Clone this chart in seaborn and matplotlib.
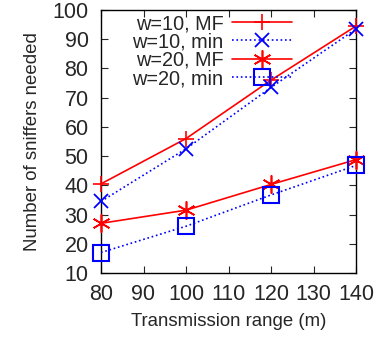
import matplotlib
matplotlib.use("Agg")
import matplotlib.pyplot as plt
import seaborn as sns
import pandas as pd

x_range = [80, 100, 120, 140]
w10_mf = [40.5, 56, 76, 94.5]
w10_min = [34.5, 52.5, 73.5, 93.5]
w20_mf = [27, 31.5, 40.3, 48.8]
w20_min = [17, 26, 36.7, 46.8]
labels = ["w=10, MF", "w=10, min", "w=20, MF", "w=20, min"]
xticks = [80, 90, 100, 110, 120, 130, 140]
yticks = [10, 20, 30, 40, 50, 60, 70, 80, 90, 100]

sns.set_style("ticks")
plt.rcParams['font.family'] = ['Liberation Sans', 'DejaVu Sans']

fig = plt.figure(figsize=(3.78, 3.39), dpi=100)
ax = fig.add_axes([101/378, 1 - 273/339, (356-101)/378, (273-10)/339])

red = "#ff0000"
blue = "#0000ff"
series = [w10_mf, w10_min, w20_mf, w20_min]
styles = [
    dict(color=red, linestyle="-", marker="+", markersize=12, lw=1.2, mew=1.2, mec=red, mfc="none"),
    dict(color=blue, linestyle=":", marker="x", markersize=10, lw=1.2, mew=1.3, mec=blue, mfc="none"),
    dict(color=red, linestyle="-", marker=(6, 2, 0), markersize=13, lw=1.2, mew=1.2, mec=red, mfc="none"),
    dict(color=blue, linestyle=":", marker="s", markersize=11, lw=1.2, mew=1.5, mec=blue, mfc="none"),
]
for vals, lab, st in zip(series, labels, styles):
    df = pd.DataFrame({"x": x_range, "y": vals})
    sns.lineplot(data=df, x="x", y="y", ax=ax, label=lab, clip_on=False, **st)

ax.set_xlim(80, 140)
ax.set_ylim(10, 100)
ax.set_xticks(xticks)
ax.set_yticks(yticks)
ax.tick_params(direction="in", top=True, right=True, labelsize=15.5, length=5, width=0.8)
ax.tick_params(axis="y", pad=9)
ax.tick_params(axis="x", pad=8)
for s in ax.spines.values():
    s.set_linewidth(1.0)
    s.set_color("black")
    s.set_zorder(1)
ax.set_xlabel("Transmission range (m)", fontsize=13.4, labelpad=6)
ax.set_ylabel("Number of sniffers needed", fontsize=13.4, labelpad=8)

leg = ax.legend(loc="upper right", bbox_to_anchor=(292/378, 1 - 14/339), bbox_transform=fig.transFigure,
                frameon=False, markerfirst=False, fontsize=14.3, handlelength=3.0,
                handletextpad=0.45, labelspacing=-0.03, borderaxespad=0, borderpad=0)
for t in leg.get_texts():
    t.set_ha("right")

fig.savefig("out.png", dpi=100)
